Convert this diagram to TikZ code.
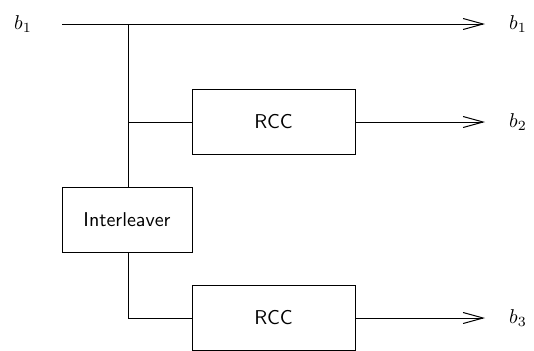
\documentclass[tikz,border=0pt]{standalone}
\usetikzlibrary{arrows.meta}
\begin{document}
\begin{tikzpicture}[x=1pt,y=1pt,
  block/.style={draw, line width=0.5pt, font=\sffamily, inner sep=0pt, minimum height=32.5pt},
  wire/.style={line width=0.5pt},
  outarrow/.style={wire, -{Straight Barb[length=10pt,width=5.5pt,line width=0.5pt]}},
  sig/.style={inner sep=0pt}]
  \useasboundingbox (0,0) rectangle (267,-175);
  % input and outputs
  \node[sig] (in) at (11.5,-12) {$b_1$};
  \coordinate (start) at (31,-12);
  \coordinate (split) at (64,-12);
  \coordinate (tap) at (64,-61);
  \coordinate (e1) at (242.5,-12);
  \coordinate (e2) at (242.5,-61);
  \coordinate (e3) at (242.5,-159);
  \node[sig] (o1) at (259,-12) {$b_1$};
  \node[sig] (o2) at (259,-61) {$b_2$};
  \node[sig] (o3) at (259,-159) {$b_3$};
  % blocks
  \node[block, minimum width=81.5pt] (rcc1) at (136.75,-61) {RCC};
  \node[block, minimum width=65pt] (intl) at (63.5,-109.75) {Interleaver};
  \node[block, minimum width=81.5pt] (rcc2) at (136.75,-159) {RCC};
  \coordinate (corner) at (intl.south |- rcc2.west);
  % systematic output
  \draw[outarrow] (start) -- (e1);
  % first encoder branch
  \draw[wire] (split) -- (intl.north -| split);
  \draw[wire] (tap) -- (rcc1.west);
  \draw[outarrow] (rcc1.east) -- (e2);
  % interleaved branch
  \draw[wire] (intl.south -| split) -- (split |- rcc2.west) -- (rcc2.west);
  \draw[outarrow] (rcc2.east) -- (e3);
\end{tikzpicture}
\end{document}
